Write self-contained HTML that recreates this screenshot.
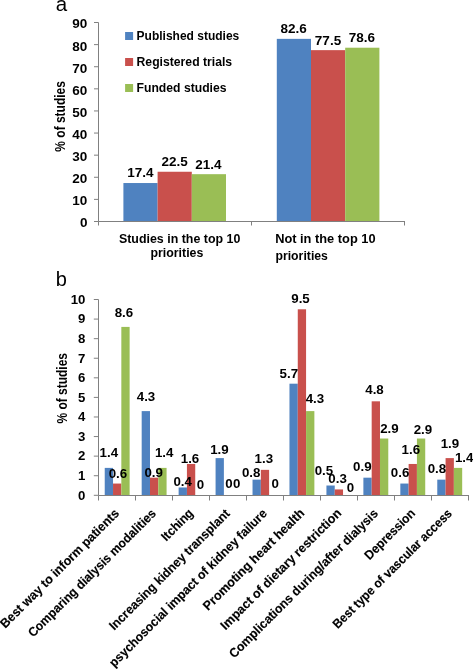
<!DOCTYPE html>
<html><head><meta charset="utf-8"><style>
html,body{margin:0;padding:0;background:#fff;}
body{width:473px;height:669px;overflow:hidden;font-family:"Liberation Sans", sans-serif;}
svg{display:block;will-change:transform;}
.t{stroke:#000;stroke-width:0.15px;}
</style></head><body>
<svg width="473" height="669" viewBox="0 0 473 669" font-family='"Liberation Sans", sans-serif'>
<rect width="473" height="669" fill="#fff"/>
<text x="55.8" y="10.7" font-size="20.5" font-weight="normal">a</text>
<text x="55.8" y="285.8" font-size="20" font-weight="normal">b</text>
<g font-weight="bold" fill="#000">
<rect x="123.40" y="183.03" width="34.20" height="38.47" fill="#4f82c0"/>
<rect x="157.60" y="171.75" width="34.20" height="49.75" fill="#c9504c"/>
<rect x="191.80" y="174.18" width="34.20" height="47.32" fill="#9abe55"/>
<rect x="276.80" y="38.86" width="34.20" height="182.64" fill="#4f82c0"/>
<rect x="311.00" y="50.14" width="34.20" height="171.36" fill="#c9504c"/>
<rect x="345.20" y="47.71" width="34.20" height="173.79" fill="#9abe55"/>
<path d="M98.5 22.5V221.5H405" fill="none" stroke="#808080" stroke-width="1"/>
<path d="M94 221.50H98.5M94 199.39H98.5M94 177.28H98.5M94 155.17H98.5M94 133.06H98.5M94 110.94H98.5M94 88.83H98.5M94 66.72H98.5M94 44.61H98.5M94 22.50H98.5M98.5 221.5V225.5M251.5 221.5V225.5M404.5 221.5V225.5" fill="none" stroke="#808080" stroke-width="1"/>
<text x="87.4" y="227.40" font-size="13.5" text-anchor="end">0</text>
<text x="87.4" y="205.29" font-size="13.5" text-anchor="end">10</text>
<text x="87.4" y="183.18" font-size="13.5" text-anchor="end">20</text>
<text x="87.4" y="161.07" font-size="13.5" text-anchor="end">30</text>
<text x="87.4" y="138.96" font-size="13.5" text-anchor="end">40</text>
<text x="87.4" y="116.84" font-size="13.5" text-anchor="end">50</text>
<text x="87.4" y="94.73" font-size="13.5" text-anchor="end">60</text>
<text x="87.4" y="72.62" font-size="13.5" text-anchor="end">70</text>
<text x="87.4" y="50.51" font-size="13.5" text-anchor="end">80</text>
<text x="87.4" y="28.40" font-size="13.5" text-anchor="end">90</text>
<text x="140.30" y="177.40" font-size="13.5" text-anchor="middle">17.4</text>
<text x="174.60" y="166.10" font-size="13.5" text-anchor="middle">22.5</text>
<text x="208.40" y="168.60" font-size="13.5" text-anchor="middle">21.4</text>
<text x="293.60" y="33.00" font-size="13.5" text-anchor="middle">82.6</text>
<text x="328.00" y="44.50" font-size="13.5" text-anchor="middle">77.5</text>
<text x="361.80" y="42.30" font-size="13.5" text-anchor="middle">78.6</text>
<rect x="125.1" y="32.00" width="8" height="8" fill="#4f82c0"/>
<rect x="125.1" y="58.00" width="8" height="8" fill="#c9504c"/>
<rect x="125.1" y="84.00" width="8" height="8" fill="#9abe55"/>
<text x="136.58" y="40.20" font-size="13.6" textLength="102.65" lengthAdjust="spacingAndGlyphs">Published studies</text>
<text x="136.57" y="66.20" font-size="13.6" textLength="95.57" lengthAdjust="spacingAndGlyphs">Registered trials</text>
<text x="136.57" y="92.20" font-size="13.6" textLength="89.97" lengthAdjust="spacingAndGlyphs">Funded studies</text>
<g transform="translate(64.8,151.4) rotate(-90)"><text x="-0.24" y="0.00" font-size="14" textLength="70.47" lengthAdjust="spacingAndGlyphs">% of studies</text></g>
<text x="118.95" y="242.70" font-size="13.3" textLength="121.40" lengthAdjust="spacingAndGlyphs">Studies in the top 10</text>
<text x="150.46" y="257.10" font-size="13.3" textLength="52.89" lengthAdjust="spacingAndGlyphs">priorities</text>
<text x="275.13" y="242.60" font-size="13.3" textLength="100.43" lengthAdjust="spacingAndGlyphs">Not in the top 10</text>
<text x="275.46" y="259.70" font-size="13.3" textLength="52.48" lengthAdjust="spacingAndGlyphs">priorities</text>
<rect x="104.73" y="467.89" width="8.30" height="27.41" fill="#4f82c0"/>
<rect x="113.03" y="483.55" width="8.30" height="11.75" fill="#c9504c"/>
<rect x="121.33" y="326.91" width="8.30" height="168.39" fill="#9abe55"/>
<rect x="141.68" y="411.11" width="8.30" height="84.19" fill="#4f82c0"/>
<rect x="149.98" y="477.68" width="8.30" height="17.62" fill="#c9504c"/>
<rect x="158.28" y="467.89" width="8.30" height="27.41" fill="#9abe55"/>
<rect x="178.63" y="487.47" width="8.30" height="7.83" fill="#4f82c0"/>
<rect x="186.93" y="463.97" width="8.30" height="31.33" fill="#c9504c"/>
<rect x="215.58" y="458.10" width="8.30" height="37.20" fill="#4f82c0"/>
<rect x="252.53" y="479.64" width="8.30" height="15.66" fill="#4f82c0"/>
<rect x="260.82" y="469.85" width="8.30" height="25.45" fill="#c9504c"/>
<rect x="289.47" y="383.69" width="8.30" height="111.61" fill="#4f82c0"/>
<rect x="297.77" y="309.29" width="8.30" height="186.01" fill="#c9504c"/>
<rect x="306.07" y="411.11" width="8.30" height="84.19" fill="#9abe55"/>
<rect x="326.43" y="485.51" width="8.30" height="9.79" fill="#4f82c0"/>
<rect x="334.73" y="489.43" width="8.30" height="5.87" fill="#c9504c"/>
<rect x="363.38" y="477.68" width="8.30" height="17.62" fill="#4f82c0"/>
<rect x="371.68" y="401.32" width="8.30" height="93.98" fill="#c9504c"/>
<rect x="379.98" y="438.52" width="8.30" height="56.78" fill="#9abe55"/>
<rect x="400.32" y="483.55" width="8.30" height="11.75" fill="#4f82c0"/>
<rect x="408.62" y="463.97" width="8.30" height="31.33" fill="#c9504c"/>
<rect x="416.93" y="438.52" width="8.30" height="56.78" fill="#9abe55"/>
<rect x="437.27" y="479.64" width="8.30" height="15.66" fill="#4f82c0"/>
<rect x="445.57" y="458.10" width="8.30" height="37.20" fill="#c9504c"/>
<rect x="453.88" y="467.89" width="8.30" height="27.41" fill="#9abe55"/>
<path d="M98.5 299.5V495.5H469" fill="none" stroke="#808080" stroke-width="1"/>
<path d="M93.8 495.30H98.5M93.8 475.72H98.5M93.8 456.14H98.5M93.8 436.56H98.5M93.8 416.98H98.5M93.8 397.40H98.5M93.8 377.82H98.5M93.8 358.24H98.5M93.8 338.66H98.5M93.8 319.08H98.5M93.8 299.50H98.5M98.5 495.5V500.5M135.5 495.5V500.5M172.5 495.5V500.5M209.5 495.5V500.5M246.5 495.5V500.5M283.5 495.5V500.5M320.5 495.5V500.5M357.5 495.5V500.5M394.5 495.5V500.5M431.5 495.5V500.5M468.5 495.5V500.5" fill="none" stroke="#808080" stroke-width="1"/>
<text x="85.4" y="499.60" font-size="13.2" text-anchor="end">0</text>
<text x="85.4" y="480.02" font-size="13.2" text-anchor="end">1</text>
<text x="85.4" y="460.44" font-size="13.2" text-anchor="end">2</text>
<text x="85.4" y="440.86" font-size="13.2" text-anchor="end">3</text>
<text x="85.4" y="421.28" font-size="13.2" text-anchor="end">4</text>
<text x="85.4" y="401.70" font-size="13.2" text-anchor="end">5</text>
<text x="85.4" y="382.12" font-size="13.2" text-anchor="end">6</text>
<text x="85.4" y="362.54" font-size="13.2" text-anchor="end">7</text>
<text x="85.4" y="342.96" font-size="13.2" text-anchor="end">8</text>
<text x="85.4" y="323.38" font-size="13.2" text-anchor="end">9</text>
<text x="85.4" y="303.80" font-size="13.2" text-anchor="end">10</text>
<text x="108.85" y="457.10" font-size="13.3" text-anchor="middle">1.4</text>
<text x="117.90" y="477.70" font-size="13.3" text-anchor="middle">0.6</text>
<text x="123.90" y="317.00" font-size="13.3" text-anchor="middle">8.6</text>
<text x="146.00" y="401.20" font-size="13.3" text-anchor="middle">4.3</text>
<text x="153.70" y="477.20" font-size="13.3" text-anchor="middle">0.9</text>
<text x="164.20" y="457.20" font-size="13.3" text-anchor="middle">1.4</text>
<text x="182.70" y="485.70" font-size="13.3" text-anchor="middle">0.4</text>
<text x="190.00" y="462.70" font-size="13.3" text-anchor="middle">1.6</text>
<text x="200.50" y="488.80" font-size="13.3" text-anchor="middle">0</text>
<text x="219.40" y="453.70" font-size="13.3" text-anchor="middle">1.9</text>
<text x="228.90" y="488.10" font-size="13.3" text-anchor="middle">0</text>
<text x="236.60" y="488.10" font-size="13.3" text-anchor="middle">0</text>
<text x="251.20" y="476.50" font-size="13.3" text-anchor="middle">0.8</text>
<text x="263.80" y="462.70" font-size="13.3" text-anchor="middle">1.3</text>
<text x="275.30" y="488.10" font-size="13.3" text-anchor="middle">0</text>
<text x="288.80" y="378.20" font-size="13.3" text-anchor="middle">5.7</text>
<text x="300.50" y="302.90" font-size="13.3" text-anchor="middle">9.5</text>
<text x="314.90" y="402.80" font-size="13.3" text-anchor="middle">4.3</text>
<text x="323.90" y="474.70" font-size="13.3" text-anchor="middle">0.5</text>
<text x="337.60" y="482.80" font-size="13.3" text-anchor="middle">0.3</text>
<text x="350.50" y="491.80" font-size="13.3" text-anchor="middle">0</text>
<text x="362.30" y="470.90" font-size="13.3" text-anchor="middle">0.9</text>
<text x="374.50" y="394.30" font-size="13.3" text-anchor="middle">4.8</text>
<text x="389.40" y="432.60" font-size="13.3" text-anchor="middle">2.9</text>
<text x="400.10" y="477.20" font-size="13.3" text-anchor="middle">0.6</text>
<text x="410.80" y="454.10" font-size="13.3" text-anchor="middle">1.6</text>
<text x="422.90" y="433.90" font-size="13.3" text-anchor="middle">2.9</text>
<text x="436.90" y="473.30" font-size="13.3" text-anchor="middle">0.8</text>
<text x="449.90" y="447.80" font-size="13.3" text-anchor="middle">1.9</text>
<text x="464.20" y="462.20" font-size="13.3" text-anchor="middle">1.4</text>
<g transform="translate(67.2,423.3) rotate(-90)"><text x="-0.24" y="0.00" font-size="14" textLength="70.57" lengthAdjust="spacingAndGlyphs">% of studies</text></g>
<g transform="translate(119.50,514.50) rotate(-45)"><text class="t" x="-161.61" y="0.00" font-size="12.8" textLength="162.06" lengthAdjust="spacingAndGlyphs">Best way to inform patients</text></g>
<g transform="translate(156.50,514.50) rotate(-45)"><text class="t" x="-174.43" y="0.00" font-size="12.8" textLength="174.87" lengthAdjust="spacingAndGlyphs">Comparing dialysis modalities</text></g>
<g transform="translate(193.50,514.50) rotate(-45)"><text class="t" x="-38.55" y="0.00" font-size="12.8" textLength="39.28" lengthAdjust="spacingAndGlyphs">Itching</text></g>
<g transform="translate(230.50,514.50) rotate(-45)"><text class="t" x="-164.56" y="0.00" font-size="12.8" textLength="164.60" lengthAdjust="spacingAndGlyphs">Increasing kidney transplant</text></g>
<g transform="translate(267.50,514.50) rotate(-45)"><text class="t" x="-216.61" y="0.00" font-size="12.8" textLength="216.93" lengthAdjust="spacingAndGlyphs">psychosocial impact of kidney failure</text></g>
<g transform="translate(304.50,514.50) rotate(-45)"><text class="t" x="-136.30" y="0.00" font-size="12.8" textLength="137.07" lengthAdjust="spacingAndGlyphs">Promoting heart health</text></g>
<g transform="translate(341.50,514.50) rotate(-45)"><text class="t" x="-163.88" y="0.00" font-size="12.8" textLength="164.64" lengthAdjust="spacingAndGlyphs">Impact of dietary restriction</text></g>
<g transform="translate(378.50,514.50) rotate(-45)"><text class="t" x="-204.14" y="0.00" font-size="12.8" textLength="204.58" lengthAdjust="spacingAndGlyphs">Complications during/after dialysis</text></g>
<g transform="translate(415.50,514.50) rotate(-45)"><text class="t" x="-65.07" y="0.00" font-size="12.8" textLength="65.81" lengthAdjust="spacingAndGlyphs">Depression</text></g>
<g transform="translate(452.50,514.50) rotate(-45)"><text class="t" x="-162.29" y="0.00" font-size="12.8" textLength="162.72" lengthAdjust="spacingAndGlyphs">Best type of vascular access</text></g>
</g>
</svg>
</body></html>
